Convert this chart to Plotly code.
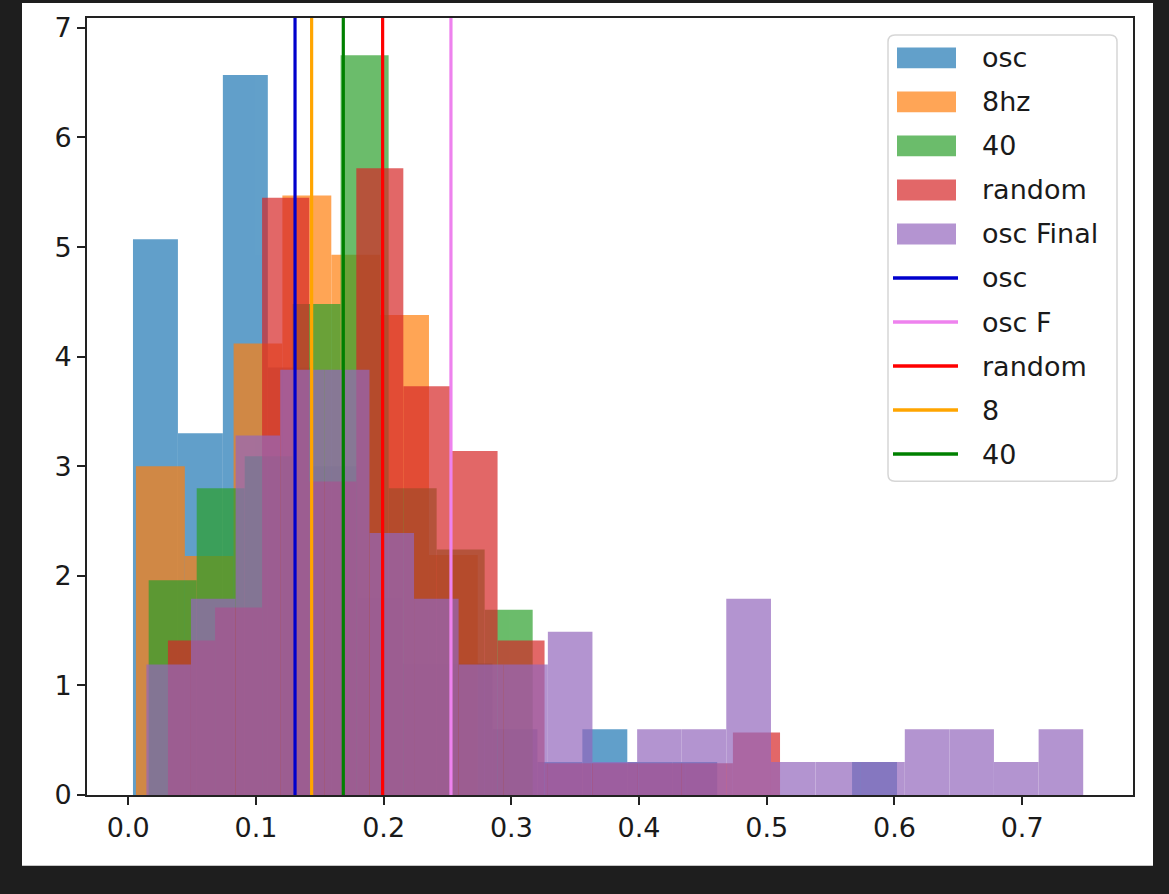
import plotly.graph_objects as go

# ---------------- data ----------------
# histogram bin edges (x values) and density heights for each series
osc_edges = [0.0037, 0.0389, 0.0741, 0.1093, 0.1445, 0.1797, 0.2149, 0.2500, 0.2852,
             0.3204, 0.3556, 0.3908, 0.4260, 0.4612, 0.4964, 0.5316, 0.5668, 0.6020]
osc_density = [5.07, 3.30, 6.57, 3.90, 3.00, 1.80, 1.20, 1.20, 0.60,
               0.30, 0.60, 0.30, 0.30, 0.00, 0.00, 0.00, 0.30]

hz8_edges = [0.0060, 0.0443, 0.0825, 0.1207, 0.1590, 0.1972, 0.2355, 0.2737]
hz8_density = [3.00, 2.18, 4.12, 5.47, 4.93, 4.38, 2.19]

g40_edges = [0.0160, 0.0536, 0.0912, 0.1287, 0.1663, 0.2039, 0.2415, 0.2791, 0.3167]
g40_density = [1.96, 2.80, 3.09, 4.48, 6.75, 2.80, 2.24, 1.69]

random_edges = [0.0311, 0.0680, 0.1048, 0.1417, 0.1786, 0.2154, 0.2523, 0.2892,
                0.3260, 0.3629, 0.3998, 0.4367, 0.4735, 0.5104]
random_density = [1.41, 1.71, 5.45, 2.86, 5.72, 3.73, 3.14, 1.41, 0.29, 0.29, 0.29, 0.29, 0.57]

oscF_edges = [0.0142, 0.0491, 0.0841, 0.1190, 0.1539, 0.1889, 0.2238, 0.2587, 0.2937,
              0.3286, 0.3635, 0.3985, 0.4334, 0.4683, 0.5033, 0.5382, 0.5731, 0.6081,
              0.6430, 0.6779, 0.7129, 0.7478]
oscF_density = [1.19, 1.79, 3.28, 3.88, 3.88, 2.39, 1.79, 1.19, 1.19, 1.49, 0.30,
                0.60, 0.60, 1.79, 0.30, 0.30, 0.30, 0.60, 0.60, 0.30, 0.60]

hist_names = ["osc", "8hz", "40", "random", "osc Final"]
hist_colors = ["#1f77b4", "#ff7f0e", "#2ca02c", "#d62728", "#9467bd"]

# vertical reference lines
vline_names = ["osc", "osc F", "random", "8", "40"]
vline_values = [0.1306, 0.2527, 0.1992, 0.1436, 0.1684]
vline_colors = ["mediumblue", "violet", "red", "orange", "green"]

x_ticks = [0.0, 0.1, 0.2, 0.3, 0.4, 0.5, 0.6, 0.7]
x_tick_labels = ["0.0", "0.1", "0.2", "0.3", "0.4", "0.5", "0.6", "0.7"]
y_ticks = [0, 1, 2, 3, 4, 5, 6, 7]
y_tick_labels = ["0", "1", "2", "3", "4", "5", "6", "7"]
x_range = [-0.0323, 0.7868]
y_range = [0, 7.09]

# ---------------- figure ----------------
W, H = 1169, 894
ML, MR, MT, MB = 87, 36, 15, 99
PW, PH = W - ML - MR, H - MT - MB
FONT = "DejaVu Sans"
TXT = "#1a1a1a"


def px_x(px):
    return (px - ML) / PW


def px_y(py):
    return (H - MB - py) / PH


fig = go.Figure()

all_edges = [osc_edges, hz8_edges, g40_edges, random_edges, oscF_edges]
all_dens = [osc_density, hz8_density, g40_density, random_density, oscF_density]
for name, edges, dens, color in zip(hist_names, all_edges, all_dens, hist_colors):
    centers = [(a + b) / 2 for a, b in zip(edges[:-1], edges[1:])]
    widths = [b - a for a, b in zip(edges[:-1], edges[1:])]
    fig.add_trace(go.Bar(x=centers, y=dens, width=widths, name=name,
                         marker=dict(color=color, line=dict(width=0)),
                         opacity=0.7, showlegend=False, hoverinfo="skip"))

shapes = []
# white figure panel on the dark page
shapes.append(dict(type="rect", xref="paper", yref="paper", layer="below",
                   x0=px_x(22), x1=px_x(1153), y0=px_y(866), y1=px_y(0),
                   fillcolor="white", line=dict(width=0)))

for v, c in zip(vline_values, vline_colors):
    shapes.append(dict(type="line", xref="x", yref="paper", x0=v, x1=v, y0=0, y1=1,
                       line=dict(color=c, width=3.2)))

# legend box (rounded)
bx0, bx1, by0, by1 = px_x(888), px_x(1117), px_y(480), px_y(32)
rx, ry = 7 / PW, 7 / PH
path = (f"M {bx0+rx},{by0} L {bx1-rx},{by0} Q {bx1},{by0} {bx1},{by0+ry} "
        f"L {bx1},{by1-ry} Q {bx1},{by1} {bx1-rx},{by1} L {bx0+rx},{by1} "
        f"Q {bx0},{by1} {bx0},{by1-ry} L {bx0},{by0+ry} Q {bx0},{by0} {bx0+rx},{by0} Z")
shapes.append(dict(type="path", xref="paper", yref="paper", path=path,
                   fillcolor="rgba(255,255,255,0.85)", line=dict(color="#d6d6d6", width=1.5)))

annotations = []
legend_labels = hist_names + vline_names
row0, drow = 55, 44.2
for i, lab in enumerate(legend_labels):
    cy = row0 + drow * i
    if i < 5:
        shapes.append(dict(type="rect", xref="paper", yref="paper",
                           x0=px_x(897), x1=px_x(956), y0=px_y(cy + 10.5), y1=px_y(cy - 10.5),
                           fillcolor=hist_colors[i], opacity=0.7, line=dict(width=0)))
    else:
        shapes.append(dict(type="line", xref="paper", yref="paper",
                           x0=px_x(893), x1=px_x(958), y0=px_y(cy), y1=px_y(cy),
                           line=dict(color=vline_colors[i - 5], width=3.5)))
    annotations.append(dict(xref="paper", yref="paper", x=px_x(980), y=px_y(cy),
                            xanchor="left", yanchor="middle", text=lab, showarrow=False,
                            font=dict(family=FONT, size=27, color=TXT)))

fig.update_layout(
    width=W, height=H,
    margin=dict(l=ML, r=MR, t=MT, b=MB),
    paper_bgcolor="#1e1e1e", plot_bgcolor="white",
    barmode="overlay", showlegend=False,
    shapes=shapes, annotations=annotations,
    font=dict(family=FONT, size=27, color=TXT),
)
fig.update_xaxes(range=x_range, tickmode="array", tickvals=x_ticks, ticktext=x_tick_labels,
                 ticks="outside", ticklen=8, tickwidth=1.6, tickcolor="#222",
                 showline=True, linecolor="#222", linewidth=1.6, mirror=True,
                 showgrid=False, zeroline=False,
                 tickfont=dict(family=FONT, size=27, color=TXT))
fig.update_yaxes(range=y_range, tickmode="array", tickvals=y_ticks, ticktext=y_tick_labels,
                 ticks="outside", ticklen=8, tickwidth=1.6, tickcolor="#222",
                 showline=True, linecolor="#222", linewidth=1.6, mirror=True,
                 showgrid=False, zeroline=False,
                 tickfont=dict(family=FONT, size=27, color=TXT))

fig.write_html("out.html", config={"displayModeBar": False})
